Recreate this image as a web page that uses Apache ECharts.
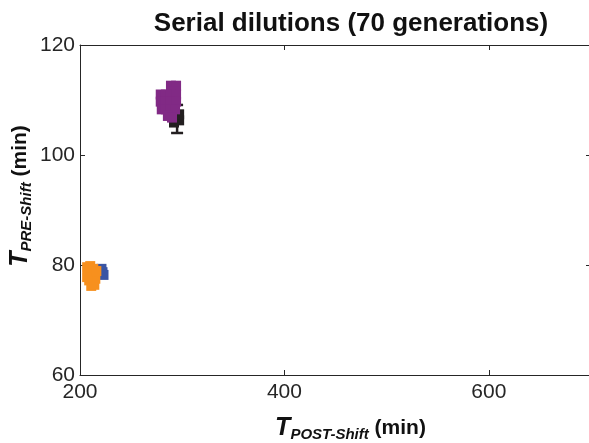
<!DOCTYPE html>
<html>
<head>
<meta charset="utf-8">
<script src="https://cdn.jsdelivr.net/npm/echarts@6/dist/echarts.min.js"></script>
<style>
  html, body { margin: 0; padding: 0; background: #fff; }
  #chart { width: 589px; height: 443px; }
</style>
</head>
<body>
<div id="chart"></div>
<script>
// tick values
const xTicks = [200, 400, 600];
const yTicks = [60, 80, 100, 120];

// clusters of points [T_post, T_pre]
const bluePts = [[219, 79], [222, 78.7], [221, 79.3], [223, 78.2]];
const orangePts = [
  [207, 79.6], [210, 79.8], [213, 79.3], [208, 78.5], [211, 78], [214, 78.4],
  [209, 77.2], [212, 76.8], [215, 77.5], [211, 76.2], [214, 76.4], [207, 77.8], [216, 78.9]
];
const blackPts = [[292, 105.9], [297, 106.3], [297, 107.4]];
const purplePts = [
  [289, 112.6], [294, 112.6], [292, 111.6],
  [279, 111], [284, 111], [289, 111], [294, 111],
  [279, 109.7], [284, 109.7], [289, 109.7], [294, 109.7],
  [280, 108.3], [284, 108.3], [289, 108.3], [293, 108.3],
  [286, 107.1], [290, 106.8]
];
// error bar for black: [x, low, high]
const blackErr = [[295, 104, 109.1]];

const chart = echarts.init(document.getElementById("chart"));

const axisLine = { show: true, lineStyle: { color: "#262626", width: 1 } };
const tick = { show: true, inside: true, length: 5, lineStyle: { color: "#262626" } };
const font = "Liberation Sans";

const errorBar = (params, api) => {
  const x = api.value(0);
  const lo = api.coord([x, api.value(1)]);
  const hi = api.coord([x, api.value(2)]);
  const half = 6;
  const style = { stroke: "#231f20", lineWidth: 2.5 };
  return {
    type: "group",
    children: [
      { type: "line", shape: { x1: lo[0], y1: lo[1], x2: hi[0], y2: hi[1] }, style },
      { type: "line", shape: { x1: lo[0] - half, y1: lo[1], x2: lo[0] + half, y2: lo[1] }, style },
      { type: "line", shape: { x1: hi[0] - half, y1: hi[1], x2: hi[0] + half, y2: hi[1] }, style },
    ],
  };
};

const sq = (name, data, color) => ({
  name,
  type: "scatter",
  symbol: "rect",
  symbolSize: 10,
  data,
  itemStyle: { color, opacity: 1 },
  silent: true,
});

// axis title with subscript; pad shifts the visible text along the axis
const axisName = (pad) => ({
  rich: {
    t: { fontFamily: font, fontSize: 25, fontWeight: "bold", fontStyle: "italic", color: "#111", padding: [0, 0, 0, pad] },
    s: { fontFamily: font, fontSize: 15, fontWeight: "bold", fontStyle: "italic", color: "#111", padding: [12, 0, 0, 0] },
    m: { fontFamily: font, fontSize: 21, fontWeight: "bold", color: "#111" },
  },
});

chart.setOption({
  animation: false,
  title: {
    text: "Serial dilutions (70 generations)",
    left: 346,
    textAlign: "center",
    top: 6,
    textStyle: { fontFamily: font, fontWeight: "bold", fontSize: 26, color: "#111" },
  },
  grid: { left: 80, right: -2, top: 45, bottom: 68, outerBoundsMode: "none", containLabel: false },
  xAxis: [
    {
      type: "value",
      min: 200,
      max: 700,
      interval: 200,
      axisLine,
      axisTick: tick,
      splitLine: { show: false },
      axisLabel: {
        color: "#262626",
        fontFamily: font,
        fontSize: 21,
        margin: 7,
        formatter: (v) => (xTicks.includes(v) ? String(v) : ""),
      },
      name: "{t|T}{s|POST-Shift}{m| (min)}",
      nameLocation: "middle",
      nameGap: 40,
      nameMoveOverlap: false,
      nameTextStyle: axisName(30),
    },
    {
      type: "value",
      position: "top",
      min: 200,
      max: 700,
      interval: 200,
      axisLine,
      axisTick: tick,
      axisLabel: { show: false },
      splitLine: { show: false },
    },
  ],
  yAxis: [
    {
      type: "value",
      min: 60,
      max: 120,
      interval: 20,
      axisLine,
      axisTick: tick,
      splitLine: { show: false },
      axisLabel: {
        color: "#262626",
        fontFamily: font,
        fontSize: 21,
        margin: 5,
        formatter: (v) => (yTicks.includes(v) ? String(v) : ""),
      },
      name: "{t|T}{s|PRE-Shift}{m| (min)}",
      nameLocation: "middle",
      nameRotate: 90,
      nameGap: 46,
      nameMoveOverlap: false,
      nameTextStyle: axisName(28),
    },
    {
      type: "value",
      position: "right",
      min: 60,
      max: 120,
      interval: 20,
      axisLine,
      axisTick: tick,
      axisLabel: { show: false },
      splitLine: { show: false },
    },
  ],
  series: [
    sq("blue", bluePts, "#3a55a4"),
    sq("orange", orangePts, "#f7901e"),
    {
      type: "custom",
      renderItem: errorBar,
      data: blackErr,
      silent: true,
      z: 2,
    },
    sq("black", blackPts, "#231f20"),
    sq("purple", purplePts, "#812a85"),
  ],
});
</script>
</body>
</html>
